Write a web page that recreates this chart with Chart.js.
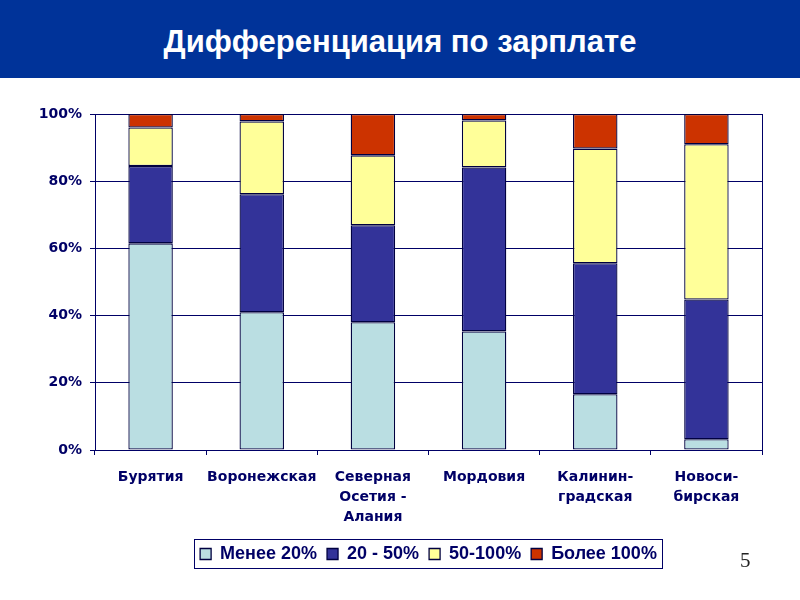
<!DOCTYPE html>
<html lang="ru">
<head>
<meta charset="utf-8">
<title>Дифференциация по зарплате</title>
<script src="https://cdn.jsdelivr.net/npm/chart.js@4.4.1/dist/chart.umd.min.js"></script>
<style>
    html, body { margin: 0; padding: 0; background: #fff; overflow: hidden; }
    body { width: 800px; height: 600px; position: relative; }
    .shapka { position: absolute; left: 0; top: 0; width: 800px; height: 78px; background: #003399; overflow: hidden; }
    .shapka h1 { margin: 0; font: bold 31px 'Liberation Sans', Arial, sans-serif; color: #fff; text-align: center; line-height: 84px; }
    .grafik { position: absolute; left: 0; top: 78px; width: 800px; height: 522px; }
    .nomer { position: absolute; left: 740px; top: 548px; font: 21px 'Liberation Serif', 'Times New Roman', serif; color: #222; }
</style>
</head>
<body>
<div class="shapka"><h1>Дифференциация по зарплате</h1></div>
<div class="grafik"><canvas id="grafikZarplaty" width="800" height="522"></canvas></div>
<div class="nomer">5</div>
<script>
// регионы (подписи по оси X)
const regiony = ['Бурятия', 'Воронежская', ['Северная', 'Осетия -', 'Алания'], 'Мордовия', ['Калинин-', 'градская'], ['Новоси-', 'бирская']];

// доли работников, %
const menee20 = [61.5, 41.0, 38.0, 35.3, 16.6, 3.2];
const ot20do50 = [23.0, 35.1, 28.9, 48.8, 39.0, 41.6];
const ot50do100 = [11.5, 21.7, 20.8, 14.0, 34.1, 46.2];
const bolee100 = [4.0, 2.2, 12.3, 1.9, 10.3, 9.0];

const nazvaniyaSeriy = ['Менее 20%', '20 - 50%', '50-100%', 'Более 100%'];
const tsveta = ['#BADEE2', '#333399', '#FFFF99', '#CC3300'];

const temnoSiniy = '#000066';
const obvodka = '#000040';

// рамка справа у области построения и рамка вокруг легенды
const ramki = {
    id: 'ramki',
    afterDraw(chart) {
        const ctx = chart.ctx;
        const area = chart.chartArea;
        ctx.save();
        ctx.strokeStyle = temnoSiniy;
        ctx.lineWidth = 1;
        ctx.beginPath();
        ctx.moveTo(Math.round(area.right) + 0.5, area.top);
        ctx.lineTo(Math.round(area.right) + 0.5, area.bottom);
        ctx.stroke();

        const boxes = chart.legend.legendHitBoxes;
        if (boxes && boxes.length) {
            const first = boxes[0];
            const last = boxes[boxes.length - 1];
            const x1 = Math.round(first.left - 6) + 0.5;
            const x2 = Math.round(last.left + last.width + 5) + 0.5;
            const y1 = Math.round(first.top - 6) + 0.5;
            const y2 = Math.round(first.top + first.height + 5) + 0.5;
            ctx.strokeRect(x1, y1, x2 - x1, y2 - y1);
        }
        ctx.restore();
    }
};

const dannye = [menee20, ot20do50, ot50do100, bolee100];

const ctxGrafik = document.getElementById('grafikZarplaty').getContext('2d');
const grafik = new Chart(ctxGrafik, {
    type: 'bar',
    data: {
        labels: regiony,
        datasets: dannye.map((d, i) => ({
            label: nazvaniyaSeriy[i],
            data: d,
            backgroundColor: tsveta[i],
            borderColor: obvodka,
            borderWidth: 1.3,
            borderSkipped: false,
            barPercentage: 0.4,
            categoryPercentage: 1.0
        }))
    },
    plugins: [ramki],
    options: {
        responsive: false,
        animation: false,
        layout: {
            padding: { top: 36, right: 38, bottom: 27, left: 0 }
        },
        plugins: {
            title: { display: false },
            tooltip: { enabled: false },
            legend: {
                position: 'bottom',
                fullSize: false,
                labels: {
                    boxWidth: 11,
                    boxHeight: 11,
                    padding: 10,
                    color: temnoSiniy,
                    font: { family: "'Liberation Sans', Arial, sans-serif", size: 18, weight: 'bold' }
                }
            }
        },
        scales: {
            x: {
                stacked: true,
                grid: {
                    offset: true,
                    drawOnChartArea: false,
                    tickLength: 5,
                    tickColor: temnoSiniy
                },
                border: { color: temnoSiniy, width: 1 },
                ticks: {
                    color: temnoSiniy,
                    padding: 12,
                    maxRotation: 0,
                    autoSkip: false,
                    font: { family: "'DejaVu Sans', Verdana, sans-serif", size: 14, weight: 'bold', lineHeight: 1.45 }
                },
                afterFit(scale) { scale.height = 85; }
            },
            y: {
                stacked: true,
                min: 0,
                max: 100,
                grid: {
                    color: temnoSiniy,
                    tickLength: 5,
                    lineWidth: 1
                },
                border: { color: temnoSiniy, width: 1 },
                ticks: {
                    stepSize: 20,
                    color: temnoSiniy,
                    padding: 8,
                    font: { family: "'DejaVu Sans', Verdana, sans-serif", size: 14, weight: 'bold' },
                    callback: v => v + '%'
                },
                afterFit(scale) { scale.width = 95; }
            }
        }
    }
});
</script>
</body>
</html>
